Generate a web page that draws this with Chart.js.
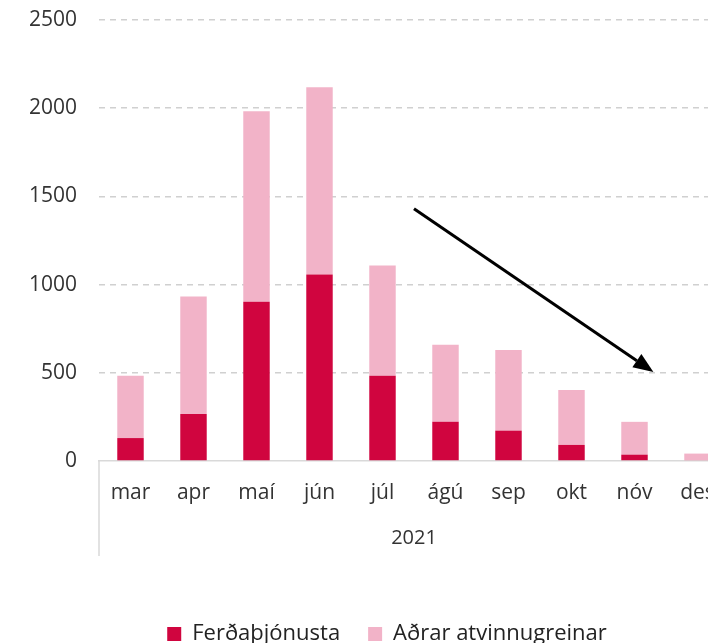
<!DOCTYPE html>
<html>
<head>
<meta charset="utf-8">
<script src="https://cdn.jsdelivr.net/npm/chart.js@4.4.0/dist/chart.umd.min.js"></script>
<style>
  html, body { margin: 0; padding: 0; background: #fff; overflow: hidden; }
  #wrap { width: 708px; height: 643px; overflow: hidden; position: relative; }
  #box { width: 774px; height: 643px; }
</style>
</head>
<body>
<div id="wrap"><div id="box"><canvas id="chart"></canvas></div></div>
<script>
// Months (2021)
const months = ['mar', 'apr', 'maí', 'jún', 'júl', 'ágú', 'sep', 'okt', 'nóv', 'des'];
const yearLabel = '2021';

// Ferðaþjónusta (tourism)
const tourism = [130, 267, 903, 1057, 483, 223, 172, 91, 36, 4];
// Aðrar atvinnugreinar (other industries)
const otherIndustries = [353, 665, 1080, 1062, 625, 436, 457, 311, 186, 38];

const yTicks = [0, 500, 1000, 1500, 2000, 2500];

// trend arrow, in data units: [category index, value]
const arrowFrom = [4.5, 1430];
const arrowTo = [8.3, 505];

const darkRed = '#d0053f';
const pink = '#f2b3c8';
const fontFamily = "'Open Sans', 'Noto Sans', sans-serif";

// draws the group separator line and the trend arrow
const extrasPlugin = {
  id: 'extras',
  afterDatasetsDraw(chart) {
    const ctx = chart.ctx;
    const area = chart.chartArea;
    const x = chart.scales.x;
    const y = chart.scales.y;

    ctx.save();
    ctx.strokeStyle = '#d9d9d9';
    ctx.lineWidth = 1.5;
    ctx.beginPath();
    ctx.moveTo(area.left, area.bottom);
    ctx.lineTo(area.left, area.bottom + 95);
    ctx.stroke();

    const x1 = x.getPixelForValue(arrowFrom[0]);
    const y1 = y.getPixelForValue(arrowFrom[1]);
    const x2 = x.getPixelForValue(arrowTo[0]);
    const y2 = y.getPixelForValue(arrowTo[1]);
    const ang = Math.atan2(y2 - y1, x2 - x1);
    const headLen = 20;
    const headW = 8;
    const bx = x2 - headLen * Math.cos(ang);
    const by = y2 - headLen * Math.sin(ang);

    ctx.strokeStyle = '#000';
    ctx.fillStyle = '#000';
    ctx.lineWidth = 3;
    ctx.beginPath();
    ctx.moveTo(x1, y1);
    ctx.lineTo(bx, by);
    ctx.stroke();

    ctx.beginPath();
    ctx.moveTo(x2, y2);
    ctx.lineTo(bx + headW * Math.sin(ang), by - headW * Math.cos(ang));
    ctx.lineTo(bx - headW * Math.sin(ang), by + headW * Math.cos(ang));
    ctx.closePath();
    ctx.fill();
    ctx.restore();
  }
};

window.onload = function () {
  const ctx = document.getElementById('chart').getContext('2d');
  new Chart(ctx, {
    type: 'bar',
    data: {
      labels: months,
      datasets: [
        {
          label: 'Ferðaþjónusta',
          data: tourism,
          backgroundColor: darkRed,
          barPercentage: 0.42,
          categoryPercentage: 1
        },
        {
          label: 'Aðrar atvinnugreinar',
          data: otherIndustries,
          backgroundColor: pink,
          barPercentage: 0.42,
          categoryPercentage: 1
        }
      ]
    },
    options: {
      responsive: true,
      maintainAspectRatio: false,
      animation: false,
      layout: {
        padding: { top: 20, right: 0, bottom: -12, left: 0 }
      },
      scales: {
        x: {
          stacked: true,
          grid: { display: false, drawTicks: false },
          border: { display: true, color: '#d9d9d9', width: 1.5 },
          ticks: {
            padding: 19,
            color: '#333',
            font: { family: fontFamily, size: 21 }
          },
          title: {
            display: true,
            text: yearLabel,
            color: '#333',
            padding: { top: 14, bottom: 45 },
            font: { family: fontFamily, size: 20 }
          },
          afterFit(scale) { scale.height = 134; }
        },
        y: {
          stacked: true,
          min: 0,
          max: 2500,
          afterBuildTicks(scale) { scale.ticks = yTicks.map(v => ({ value: v })); },
          grid: {
            color: ctx => ctx.tick && ctx.tick.value === 0 ? 'rgba(0,0,0,0)' : '#d0d0d0',
            lineWidth: 1.5,
            drawTicks: false
          },
          border: { display: false, dash: [6, 5] },
          ticks: {
            padding: 22,
            color: '#333',
            font: { family: fontFamily, size: 21 },
            callback: v => String(v)
          },
          afterFit(scale) {
            scale.width = 99;
            scale.paddingTop = 0;
            scale.paddingBottom = 0;
          }
        },
        // empty right-hand axis, only reserves room so the legend centres like the original
        yRight: {
          position: 'right',
          display: true,
          grid: { display: false, drawTicks: false },
          border: { display: false },
          ticks: { display: false },
          afterFit(scale) { scale.width = 45; }
        }
      },
      plugins: {
        legend: {
          position: 'bottom',
          labels: {
            boxWidth: 14,
            boxHeight: 14,
            padding: 28,
            color: '#222',
            font: { family: fontFamily, size: 22 }
          }
        },
        tooltip: { enabled: false }
      }
    },
    plugins: [extrasPlugin]
  });
};
</script>
</body>
</html>
